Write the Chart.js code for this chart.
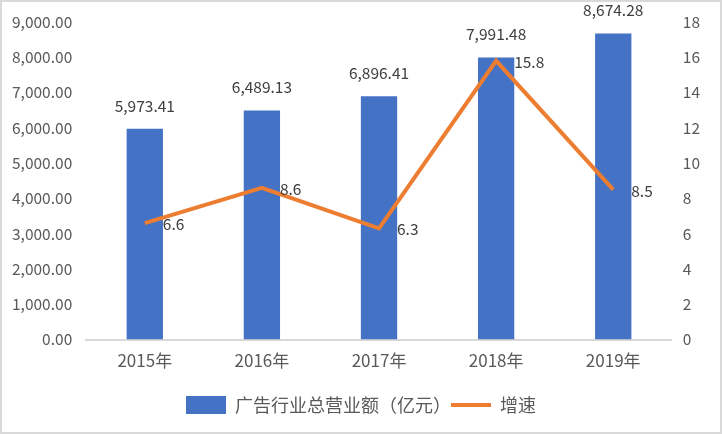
<!DOCTYPE html>
<html>
<head>
<meta charset="utf-8">
<script src="https://cdn.jsdelivr.net/npm/chart.js@4/dist/chart.umd.min.js"></script>
<style>
  html, body { margin: 0; padding: 0; background: #fff; }
  .wrap { width: 722px; height: 434px; box-sizing: border-box; border: 2px solid #d9d9d9; }
  canvas { display: block; }
</style>
</head>
<body>
<div class="wrap"><canvas id="chart" width="718" height="430"></canvas></div>
<script>
const years = ['2015年', '2016年', '2017年', '2018年', '2019年'];
const revenue = [5973.41, 6489.13, 6896.41, 7991.48, 8674.28];
const growth = [6.6, 8.6, 6.3, 15.8, 8.5];
const leftTicks = [0, 9000, 1000];
const rightTicks = [0, 18, 2];

const fontFamily = '"Noto Sans CJK SC", "Liberation Sans", sans-serif';
const textColor = '#595959';
const numFont = { size: 15.5, family: fontFamily };

// draws value labels: above bars, right of line points
const valueLabels = {
    id: 'valueLabels',
    afterDatasetsDraw(chart) {
        const ctx = chart.ctx;
        ctx.save();
        ctx.font = '15.5px ' + fontFamily;
        ctx.fillStyle = '#404040';
        chart.getDatasetMeta(0).data.forEach((bar, i) => {
            ctx.textAlign = 'center';
            ctx.textBaseline = 'middle';
            ctx.fillText(revenue[i].toLocaleString('en-US', { minimumFractionDigits: 2 }), bar.x, bar.y - 23);
        });
        chart.getDatasetMeta(1).data.forEach((pt, i) => {
            ctx.textAlign = 'left';
            ctx.textBaseline = 'middle';
            ctx.fillText(String(growth[i]), pt.x + 18, pt.y + 1);
        });
        ctx.restore();
    }
};

const chartContext = document.getElementById('chart').getContext('2d');

const chartConfig = {
    type: 'bar',
    data: {
        labels: years,
        datasets: [
            {
                type: 'bar',
                label: '广告行业总营业额（亿元）',
                data: revenue,
                backgroundColor: '#4472C4',
                yAxisID: 'y',
                categoryPercentage: 1,
                barPercentage: 0.31,
                order: 2
            },
            {
                type: 'line',
                label: '增速',
                data: growth,
                borderColor: '#ED7D31',
                backgroundColor: '#ED7D31',
                borderWidth: 4,
                pointRadius: 0,
                tension: 0,
                yAxisID: 'y1',
                order: 1
            }
        ]
    },
    options: {
        responsive: false,
        animation: false,
        layout: { padding: { left: 4, right: 4, top: 20, bottom: 8 } },
        plugins: {
            tooltip: { enabled: false },
            legend: {
                position: 'bottom',
                labels: {
                    color: textColor,
                    font: { size: 18, family: fontFamily },
                    usePointStyle: true,
                    pointStyleWidth: 40,
                    boxHeight: 20,
                    padding: 0,
                    sort: (a, b) => a.datasetIndex - b.datasetIndex,
                    generateLabels(chart) {
                        const items = Chart.defaults.plugins.legend.labels.generateLabels(chart);
                        items.forEach(item => {
                            if (item.datasetIndex === 0) {
                                item.pointStyle = 'rect';
                                item.lineWidth = 0;
                            } else {
                                item.pointStyle = 'line';
                                item.lineWidth = 4;
                            }
                        });
                        return items;
                    }
                }
            }
        },
        scales: {
            x: {
                grid: { display: false },
                border: { color: '#d9d9d9', width: 2 },
                ticks: { color: textColor, font: { size: 17, family: fontFamily }, padding: 3 },
                afterFit(scale) { scale.height += 22; }
            },
            y: {
                position: 'left',
                min: leftTicks[0],
                max: leftTicks[1],
                grid: { display: false },
                border: { display: false },
                ticks: {
                    stepSize: leftTicks[2],
                    color: textColor,
                    padding: 6,
                    font: numFont,
                    callback: v => v.toLocaleString('en-US', { minimumFractionDigits: 2, maximumFractionDigits: 2 })
                }
            },
            y1: {
                position: 'right',
                min: rightTicks[0],
                max: rightTicks[1],
                grid: { display: false },
                border: { display: false },
                ticks: {
                    stepSize: rightTicks[2],
                    color: textColor,
                    padding: 3,
                    font: numFont
                },
                afterFit(scale) { scale.width += 13; }
            }
        }
    },
    plugins: [valueLabels]
};

const revenueChart = new Chart(chartContext, chartConfig);
</script>
</body>
</html>
